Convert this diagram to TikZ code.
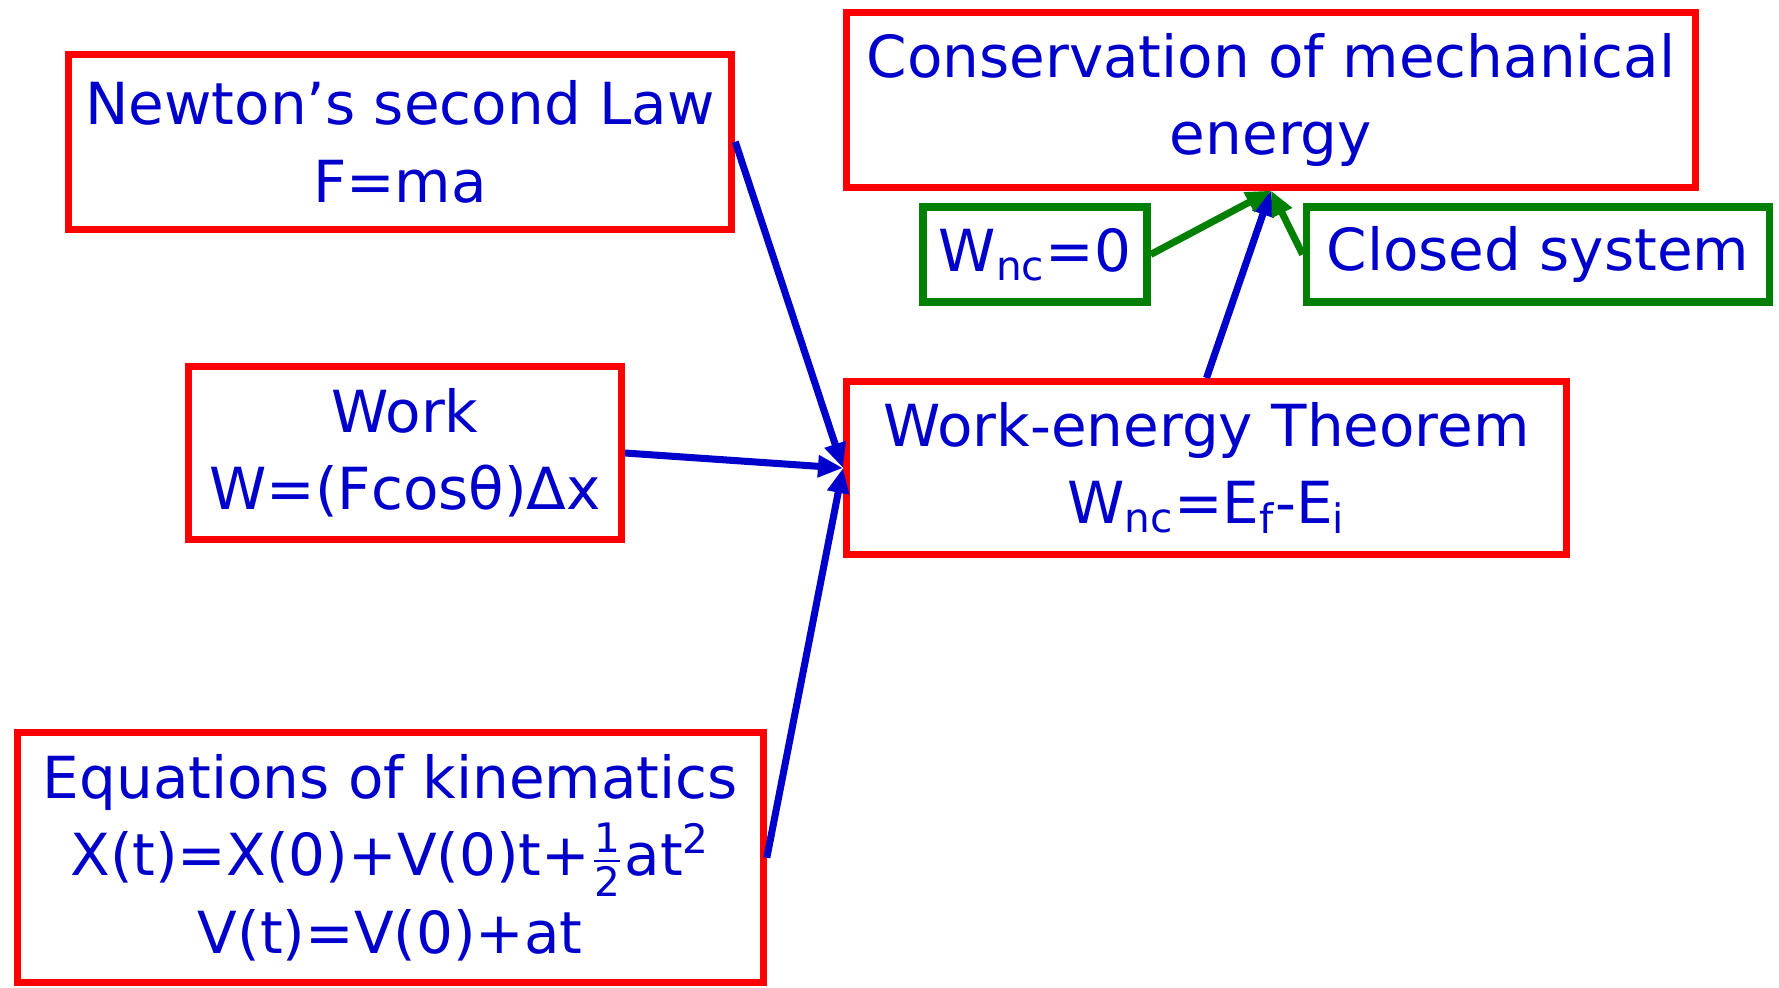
\documentclass[tikz,border=0pt]{standalone}
\usepackage{amsmath}
\usepackage{fontspec}
\setmainfont{DejaVu Sans}
\usetikzlibrary{arrows.meta}
\definecolor{ttblue}{RGB}{0,0,204}
\definecolor{ttgreen}{RGB}{0,128,0}

\begin{document}
\begin{tikzpicture}[line cap=butt,line join=miter,x=1.0cm,y=1.0cm,
	redbox/.style={draw=red,line width=2pt,text=ttblue,align=center,inner sep=0pt,
		font=\fontsize{16.5}{22}\selectfont},
	greenbox/.style={draw=ttgreen,line width=2.2pt,text=ttblue,align=center,inner sep=0pt,
		font=\fontsize{16.5}{22}\selectfont},
	flow/.style={line width=2pt,-{Triangle[length=0.25cm,width=0.21cm]}}]
	\useasboundingbox (0,0) rectangle (17.79,-9.87);
	%% left column
	\draw (4.00,-1.418) node[redbox,minimum width=6.635cm,minimum height=1.746cm] (newton) {Newton’s second Law\\F=ma};
	\draw (4.05,-4.53) node[redbox,minimum width=4.33cm,minimum height=1.735cm] (work) {Work\\W=(Fcosθ)Δx};
	\draw (3.903,-8.577) node[redbox,minimum width=7.46cm,minimum height=2.50cm] (kinem) {Equations of kinematics\\X(t)=X(0)+V(0)t+$\frac{\text{1}}{\text{2}}$at\textsuperscript{2}\\V(t)=V(0)+at};
	%% right column
	\draw (12.71,-0.998) node[redbox,minimum width=8.485cm,minimum height=1.746cm] (conserv) {Conservation of mechanical\\energy};
	\draw (10.35,-2.545) node[greenbox,minimum width=2.235cm,minimum height=0.95cm] (wnc) {W\textsubscript{nc}=0};
	\draw (15.38,-2.545) node[greenbox,minimum width=4.63cm,minimum height=0.95cm] (closed) {Closed system};
	\draw (12.065,-4.68) node[redbox,minimum width=7.20cm,minimum height=1.73cm] (theorem) {Work-energy Theorem\\W\textsubscript{nc}=E\textsubscript{f}-E\textsubscript{i}};
	%% connectors
	\draw [flow,color=ttblue] (newton.east) -- (theorem.west);
	\draw [flow,color=ttblue] (work.east) -- (theorem.west);
	\draw [flow,color=ttblue] (kinem.east) -- (theorem.west);
	\draw [flow,color=ttblue] (theorem.north) -- (conserv.south);
	\draw [flow,color=ttgreen] (wnc.east) -- (conserv.south);
	\draw [flow,color=ttgreen] (closed.west) -- (conserv.south);
\end{tikzpicture}
\end{document}
